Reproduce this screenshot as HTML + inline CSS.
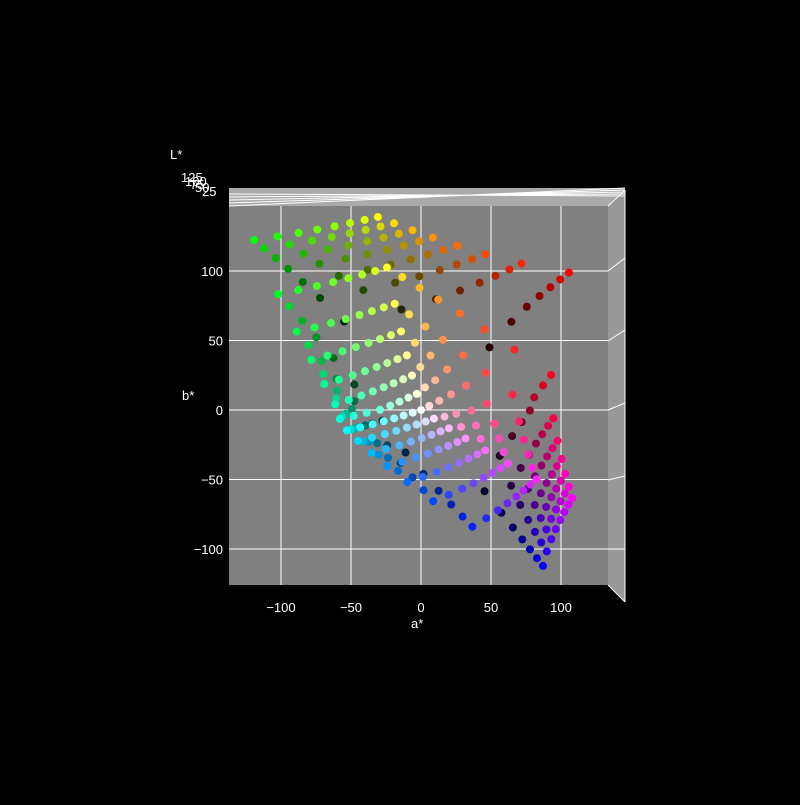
<!DOCTYPE html>
<html><head><meta charset="utf-8"><style>
body{margin:0;background:#000;}
svg text{font-family:"Liberation Sans","DejaVu Sans",sans-serif;fill:#fff;font-size:13px;}
</style></head><body>
<svg id="c" width="800" height="800" xmlns="http://www.w3.org/2000/svg">
<rect width="800" height="800" fill="#000"/>
<g id="pane">
<polygon points="229,206 608,206 625,188 229,188" fill="#aaa"/>
<polygon points="608,206 625,188 625,602 608,585" fill="#999"/>
<rect x="229" y="206" width="379" height="379" fill="#808080"/>
<path d="M229,206 L625,188 M229,203 L625,190 M229,200 L625,192 M229,197 L625,194 M229,194 L625,196" stroke="#fff" stroke-width="1" fill="none"/>
<path d="M608,206 L625,190 M608,585 L625,602 M625,190 L625,602 M608,271 L625,258 M608,341 L625,330 M608,410 L625,403 M608,480 L625,476 M608,549 L625,549" stroke="#fff" stroke-width="1" fill="none"/>
</g>
<g id="grid"></g>
<g id="ticks"></g>
<g id="pts"></g>
<text x="411" y="628">a*</text>
<text x="182" y="400">b*</text>
<text x="170" y="159">L*</text>
<g font-size="12">
<text x="181" y="182">125</text><text x="185" y="186">100</text><text x="190" y="189">75</text><text x="195" y="192">50</text><text x="202" y="196">25</text>
</g>
</svg>
<script>
const xTicks=[-100,-50,0,50,100];
const yTicks=[100,50,0,-50,-100];
const xTickLabels=["\u2212100","\u221250","0","50","100"];
const yTickLabels=["100","50","0","\u221250","\u2212100"];
const levels=[0,36,73,109,146,182,219,255];
const aVals=[],bVals=[],LVals=[],colors=[];
function lin(c){return c/255;}
function f(t){return t>0.008856?Math.cbrt(t):7.787*t+16/116;}
levels.forEach(r=>levels.forEach(g=>levels.forEach(b=>{
  const e=levels.length-1, ir=levels.indexOf(r),ig=levels.indexOf(g),ib=levels.indexOf(b);
  if(!(ir===0||ir===e||ig===0||ig===e||ib===0||ib===e))return;
  const R=lin(r),G=lin(g),B=lin(b);
  const X=(0.4124*R+0.3576*G+0.1805*B)/0.95047,Y=0.2126*R+0.7152*G+0.0722*B,Z=(0.0193*R+0.1192*G+0.9505*B)/1.08883;
  let a=500*(f(X)-f(Y)), bb=200*(f(Y)-f(Z));
  if(bb>0){a*=1.05+0.004*bb;bb*=1.47;}else{a*=1.1;bb*=1.04;}
  LVals.push(116*f(Y)-16);aVals.push(a);bVals.push(bb);
  colors.push(`rgb(${r},${g},${b})`);
})));
const NS="http://www.w3.org/2000/svg";
const xs=v=>421+v*1.4, ys=v=>410-v*1.39;
const grid=document.getElementById('grid'),ticks=document.getElementById('ticks'),pts=document.getElementById('pts');
xTicks.forEach((v,i)=>{
  const l=document.createElementNS(NS,'line');
  
  
  l.setAttribute('x1',xs(v));l.setAttribute('x2',xs(v));l.setAttribute('y1',206);l.setAttribute('y2',585);
  l.setAttribute('stroke','#fff');grid.appendChild(l);
  const t=document.createElementNS(NS,'text');
  
  
  t.setAttribute('x',xs(v));t.setAttribute('y',612);t.setAttribute('text-anchor','middle');
  t.textContent=xTickLabels[i];ticks.appendChild(t);
});
yTicks.forEach((v,i)=>{
  const l=document.createElementNS(NS,'line');
  
  
  l.setAttribute('x1',229);l.setAttribute('x2',608);l.setAttribute('y1',ys(v));l.setAttribute('y2',ys(v));
  l.setAttribute('stroke','#fff');grid.appendChild(l);
  const t=document.createElementNS(NS,'text');
  
  
  t.setAttribute('x',223);t.setAttribute('y',ys(v)+5);t.setAttribute('text-anchor','end');
  t.textContent=yTickLabels[i];ticks.appendChild(t);
});
const order=LVals.map((_,i)=>i).sort((p,q)=>LVals[p]-LVals[q]);
order.forEach(i=>{
  const c=document.createElementNS(NS,'circle');
  
  
  c.setAttribute('cx',xs(aVals[i]));c.setAttribute('cy',ys(bVals[i]));c.setAttribute('r',4);
  c.setAttribute('fill',colors[i]);pts.appendChild(c);
});
</script>
</body></html>
